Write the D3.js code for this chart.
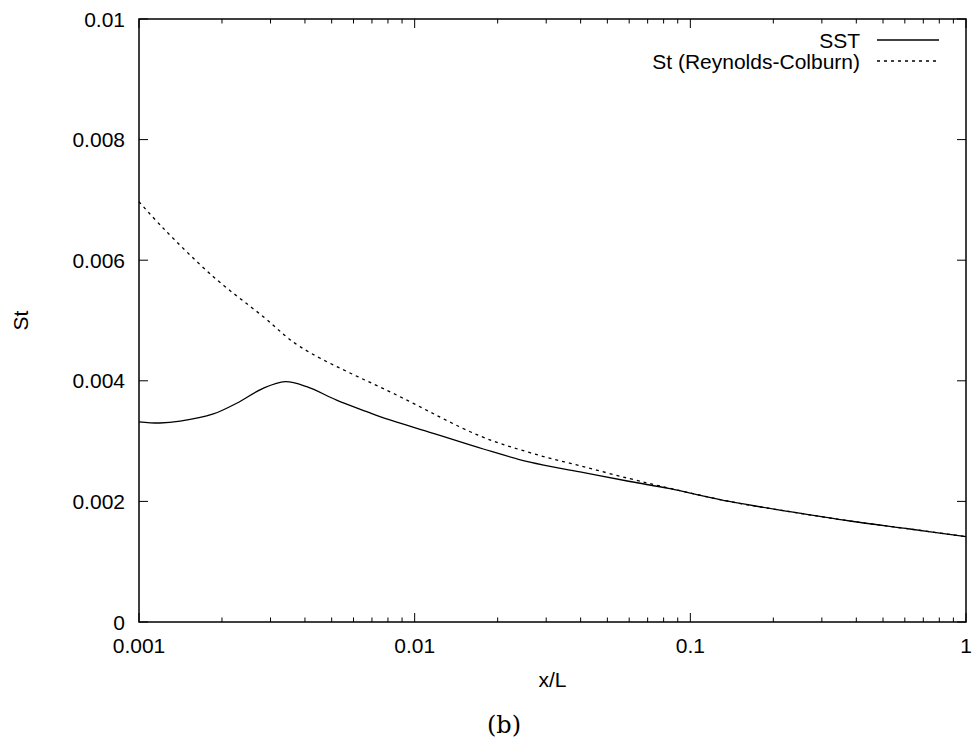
<!DOCTYPE html>
<html>
<head>
<meta charset="utf-8">
<script src="https://cdn.jsdelivr.net/npm/d3@7"></script>
<style>
  body { margin: 0; background: #fff; }
  svg { display: block; }
</style>
</head>
<body>
<div id="chart"></div>
<script>
// Values
const sstX = [0.001, 0.00119, 0.00141, 0.00186, 0.00226, 0.00282, 0.00339, 0.00406, 0.00521, 0.0067, 0.00748, 0.01168, 0.01774, 0.0262, 0.0398, 0.0604, 0.0843, 0.14, 0.2297, 0.379, 0.626, 1];
const sstY = [0.00332, 0.00330, 0.00333, 0.00345, 0.003627, 0.003875, 0.003985, 0.003902, 0.00368, 0.003488, 0.003405, 0.003129, 0.002869, 0.00265, 0.00249, 0.00233, 0.00221, 0.001995, 0.00183, 0.001675, 0.001542, 0.001415];

const rcX = [0.001, 0.001225, 0.00186, 0.002824, 0.00384, 0.00885, 0.01726, 0.0262, 0.0398, 0.0604, 0.0843, 0.14, 0.2297, 0.379, 0.626, 1];
const rcY = [0.00697, 0.00653, 0.005727, 0.005063, 0.004566, 0.003736, 0.003085, 0.002808, 0.00259, 0.002376, 0.002217, 0.001995, 0.00183, 0.001675, 0.001542, 0.001415];

const yTicks = [0, 0.002, 0.004, 0.006, 0.008, 0.01];
const yTickLabels = ["0", "0.002", "0.004", "0.006", "0.008", "0.01"];
const xTicks = [0.001, 0.01, 0.1, 1];
const xTickLabels = ["0.001", "0.01", "0.1", "1"];
const seriesNames = ["SST", "St (Reynolds-Colburn)"];

const width = 974, height = 742;
const plotLeft = 139, plotRight = 966, plotTop = 19, plotBottom = 622;
const font = "'Liberation Sans', Arial, Helvetica, sans-serif";

const x = d3.scaleLog().domain([0.001, 1]).range([plotLeft, plotRight]);
const y = d3.scaleLinear().domain([0, 0.01]).range([plotBottom, plotTop]);

const svg = d3.select("#chart").append("svg")
  .attr("width", width)
  .attr("height", height)
  .style("font-family", font);

// minor log ticks
const minor = [];
for (let dec = 0.001; dec < 0.9; dec *= 10) {
  for (let k = 2; k <= 9; k++) minor.push(dec * k);
}

const tickG = svg.append("g").attr("stroke", "#000").attr("stroke-width", 1);
minor.forEach(v => {
  tickG.append("line").attr("x1", x(v)).attr("x2", x(v)).attr("y1", plotBottom).attr("y2", plotBottom - 4.5);
  tickG.append("line").attr("x1", x(v)).attr("x2", x(v)).attr("y1", plotTop).attr("y2", plotTop + 4.5);
});
xTicks.forEach(v => {
  tickG.append("line").attr("x1", x(v)).attr("x2", x(v)).attr("y1", plotBottom).attr("y2", plotBottom - 9);
  tickG.append("line").attr("x1", x(v)).attr("x2", x(v)).attr("y1", plotTop).attr("y2", plotTop + 9);
});
yTicks.forEach(v => {
  tickG.append("line").attr("x1", plotLeft).attr("x2", plotLeft + 9).attr("y1", y(v)).attr("y2", y(v));
  tickG.append("line").attr("x1", plotRight).attr("x2", plotRight - 9).attr("y1", y(v)).attr("y2", y(v));
});

// tick labels
svg.append("g").selectAll("text")
  .data(yTicks)
  .join("text")
  .attr("x", 125)
  .attr("y", d => y(d))
  .attr("dy", "0.36em")
  .attr("text-anchor", "end")
  .attr("font-size", 21)
  .text((d, i) => yTickLabels[i]);

svg.append("g").selectAll("text")
  .data(xTicks)
  .join("text")
  .attr("x", d => x(d))
  .attr("y", 653)
  .attr("text-anchor", "middle")
  .attr("font-size", 21)
  .text((d, i) => xTickLabels[i]);

// axis titles
svg.append("text")
  .attr("x", (plotLeft + plotRight) / 2)
  .attr("y", 687)
  .attr("text-anchor", "middle")
  .attr("font-size", 21)
  .text("x/L");

svg.append("text")
  .attr("transform", `translate(28,${(plotTop + plotBottom) / 2}) rotate(-90)`)
  .attr("text-anchor", "middle")
  .attr("font-size", 21)
  .text("St");

svg.append("text")
  .attr("x", 504)
  .attr("y", 733)
  .attr("text-anchor", "middle")
  .attr("font-family", "'DejaVu Serif', 'Liberation Serif', serif")
  .attr("font-size", 24)
  .text("(b)");

// curves
const line = d3.line()
  .x(d => x(d[0]))
  .y(d => y(d[1]))
  .curve(d3.curveCatmullRom.alpha(0.5));

const sst = sstX.map((v, i) => [v, sstY[i]]);
const rc = rcX.map((v, i) => [v, rcY[i]]);

svg.append("path")
  .attr("d", line(rc))
  .attr("fill", "none")
  .attr("stroke", "#000")
  .attr("stroke-width", 1.3)
  .attr("stroke-dasharray", "3,4");

svg.append("path")
  .attr("d", line(sst))
  .attr("fill", "none")
  .attr("stroke", "#000")
  .attr("stroke-width", 1.3);

// legend
const legend = svg.append("g");
const dashes = [null, "3,4"];
seriesNames.forEach((name, i) => {
  const ly = 40 + i * 21;
  legend.append("text")
    .attr("x", 860)
    .attr("y", ly)
    .attr("dy", "0.36em")
    .attr("text-anchor", "end")
    .attr("font-size", 21)
    .text(name);
  legend.append("line")
    .attr("x1", 877).attr("x2", 939)
    .attr("y1", ly).attr("y2", ly)
    .attr("stroke", "#000")
    .attr("stroke-width", 1.3)
    .attr("stroke-dasharray", dashes[i]);
});

// frame
svg.append("rect")
  .attr("x", plotLeft).attr("y", plotTop)
  .attr("width", plotRight - plotLeft).attr("height", plotBottom - plotTop)
  .attr("fill", "none")
  .attr("stroke", "#000")
  .attr("stroke-width", 1.5);
</script>
</body>
</html>
